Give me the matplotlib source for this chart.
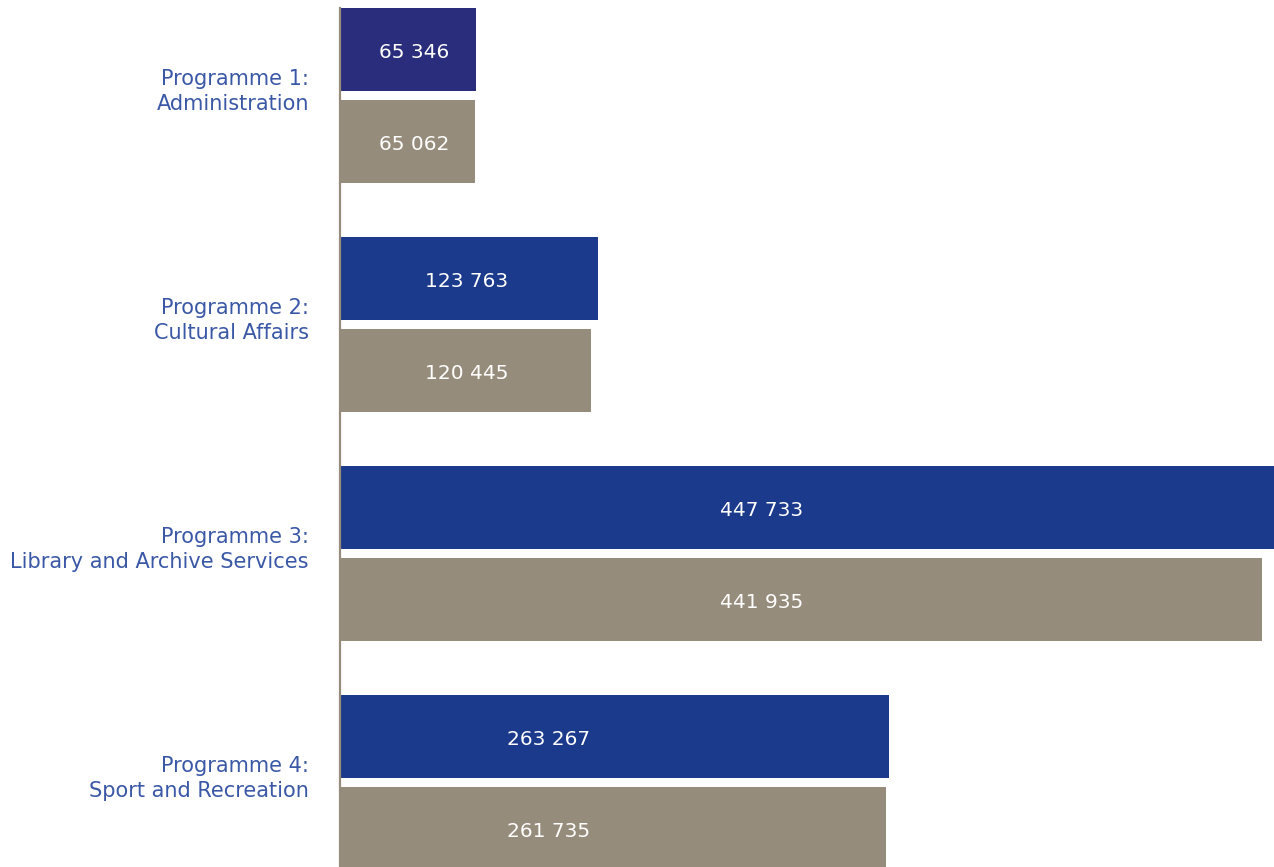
import numpy as np
import matplotlib
matplotlib.use("Agg")
import matplotlib.pyplot as plt

# Budget per programme (R'000) - two series per programme
categories = ["Programme 1:\nAdministration",
              "Programme 2:\nCultural Affairs",
              "Programme 3:\nLibrary and Archive Services",
              "Programme 4:\nSport and Recreation"]
budget = [65346, 123763, 447733, 263267]
spent = [65062, 120445, 441935, 261735]
value_labels_top = ["65 346", "123 763", "447 733", "263 267"]
value_labels_bottom = ["65 062", "120 445", "441 935", "261 735"]

# where the value labels sit along the bar (data units)
label_x = [35700, 60900, 202100, 100200]

blue_colors = ["#2a2d7b", "#1b3a8b", "#1b3a8b", "#1b3a8b"]
grey = "#968c7b"
label_color = "#3a58a6"

fig = plt.figure(figsize=(12.74, 8.67), dpi=100)
ax = fig.add_axes([339.5 / 1274, 0, 1 - 339.5 / 1274, 1])

pos = np.arange(len(categories))
offset = 0.2009
height = 0.3624

ax.barh(pos - offset, budget, height=height, color=blue_colors, zorder=1)
ax.barh(pos + offset, spent, height=height, color=grey, zorder=1)

# small nudge down so the numbers sit like in the original
dy = 0.012
for i in range(len(categories)):
    ax.text(label_x[i], pos[i] - offset + dy, value_labels_top[i], color="white",
            ha="center", va="center", fontsize=14.5, fontweight="medium")
    ax.text(label_x[i], pos[i] + offset + dy, value_labels_bottom[i], color="white",
            ha="center", va="center", fontsize=14.5, fontweight="medium")

ax.set_xlim(0, 447733)
ax.set_ylim(3.369, -0.417)

ax.set_yticks(pos - 0.035)
ax.set_yticklabels(categories, color=label_color, fontsize=15, ha="right",
                   multialignment="right", linespacing=1.3)
ax.tick_params(axis="y", length=0, pad=22)
ax.set_xticks([])

for side in ["top", "right", "bottom"]:
    ax.spines[side].set_visible(False)
ax.spines["left"].set_color(grey)
ax.spines["left"].set_linewidth(1.6)
ax.spines["left"].set_bounds(-offset - height / 2, 3.369)
ax.spines["left"].set_zorder(3)

fig.savefig("out.png", dpi=100)
